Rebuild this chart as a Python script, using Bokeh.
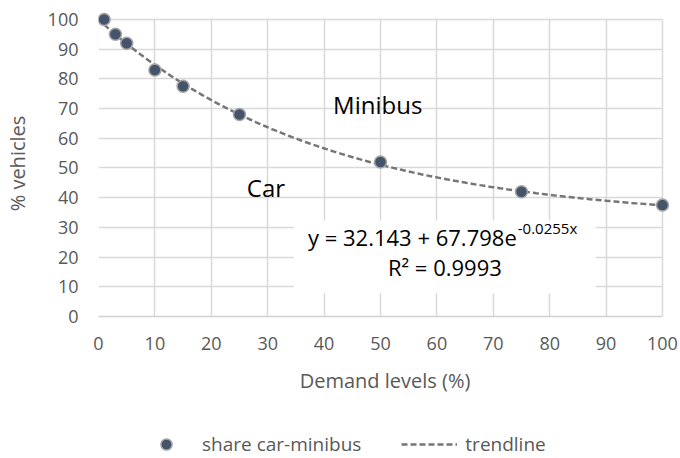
import numpy as np
from bokeh.plotting import figure
from bokeh.layouts import column
from bokeh.models import Range1d, Legend, LegendItem, Label, BoxAnnotation, FixedTicker
from bokeh.embed import file_html
from bokeh.resources import INLINE

# ---- data ----
demand = [1, 3, 5, 10, 15, 25, 50, 75, 100]
share = [100, 95, 92, 83, 77.5, 68, 52, 42, 37.5]
x_ticks = [0, 10, 20, 30, 40, 50, 60, 70, 80, 90, 100]
y_ticks = [0, 10, 20, 30, 40, 50, 60, 70, 80, 90, 100]
# trendline shown on the chart: y = a + b * exp(c * x)
trend_a = 32.143
trend_b = 67.798
trend_c = -0.0255
trend_x = np.linspace(1, 100, 200)
trend_y = trend_a + trend_b * np.exp(trend_c * trend_x)

FONT = "Open Sans"
GREY_TXT = "#595959"
GRID = "#D9D9D9"
MARK = dict(size=12, fill_color="#44546A", line_color="#A5A5A5", line_width=1.5)
TREND = dict(line_color="#767676", line_width=2.5, line_dash="6 3")

p = figure(width=680, height=418, x_range=Range1d(0, 101.6), y_range=Range1d(0, 103),
           output_backend="svg", toolbar_location=None,
           min_border_left=97, min_border_right=9, min_border_top=10, min_border_bottom=102)
p.outline_line_color = None
p.background_fill_color = "white"
p.border_fill_color = "white"

# axes
for ax, ticks in ((p.xaxis, x_ticks), (p.yaxis, y_ticks)):
    ax.ticker = FixedTicker(ticks=ticks)
    ax.major_tick_line_color = None
    ax.minor_tick_line_color = None
    ax.major_tick_out = 0
    ax.major_tick_in = 0
    ax.major_label_text_font = FONT
    ax.major_label_text_font_size = "18px"
    ax.major_label_text_color = GREY_TXT
    ax.axis_label_text_font = FONT
    ax.axis_label_text_font_size = "20px"
    ax.axis_label_text_font_style = "normal"
    ax.axis_label_text_color = GREY_TXT

p.xaxis.axis_label = "Demand levels (%)"
p.xaxis.bounds = (0, 100)
p.xaxis.axis_line_color = "#D0D0D0"
p.xaxis.axis_line_width = 1.5
p.xaxis.major_label_standoff = 20
p.xaxis.axis_label_standoff = 14

p.yaxis.axis_label = "% vehicles"
p.yaxis.axis_line_color = None
p.yaxis.major_label_standoff = 20
p.yaxis.axis_label_standoff = 14

p.xgrid.ticker = FixedTicker(ticks=x_ticks)
p.ygrid.ticker = FixedTicker(ticks=y_ticks)
for g in (p.xgrid, p.ygrid):
    g.grid_line_color = GRID
    g.grid_line_width = 1.5
    g.cross_bounds = (0, 100)
p.xgrid.bounds = (0, 100)
p.ygrid.bounds = (0, 100)

# glyphs
p.line(trend_x, trend_y, **TREND)
p.scatter(demand, share, **MARK)

# equation box
def dx(px):
    return (px - 97) / 5.65

def dy(py):
    return (316 - py) / 2.971

p.add_layout(BoxAnnotation(left=dx(293), right=dx(595), top=dy(220), bottom=dy(293),
                           fill_color="white", fill_alpha=1.0, line_color=None))

def lab(text, x, y, size, align="center", color="black"):
    p.add_layout(Label(x=x, y=y, text=text, text_font=FONT, text_font_size=size,
                       text_align=align, text_baseline="alphabetic", text_color=color))

SHIFT = 9
lab("Minibus", dx(376.7), dy(112.7 - SHIFT), "24px")
lab("Car", dx(264.7), dy(196 - SHIFT), "24px")
lab("y = 32.143 + 67.798e", dx(516), dy(245 - SHIFT), "22px", align="right")
lab("-0.0255x", dx(517), dy(236 - SHIFT), "15px", align="left")
lab("R\u00b2 = 0.9993", dx(444), dy(275 - SHIFT), "22px")

# ---- legend strip (separate small figure under the chart) ----
q = figure(width=680, height=40, x_range=Range1d(-20, -10), y_range=Range1d(-20, -10),
           output_backend="svg", toolbar_location=None,
           x_axis_location=None, y_axis_location=None,
           min_border_left=0, min_border_right=0, min_border_top=0, min_border_bottom=0)
q.outline_line_color = None
q.grid.visible = False
q.background_fill_color = "white"
q.border_fill_color = "white"
sc2 = q.scatter(demand, share, **MARK)
tl2 = q.line(trend_x, trend_y, **TREND)

leg = Legend(items=[LegendItem(label="share car-minibus", renderers=[sc2]),
                    LegendItem(label="trendline", renderers=[tl2])],
             location=(40, 0), orientation="horizontal",
             glyph_width=56, glyph_height=28, label_standoff=8, spacing=40,
             padding=0, margin=0, border_line_color=None, background_fill_alpha=0,
             label_text_font=FONT, label_text_font_size="19px", label_text_color=GREY_TXT)
q.add_layout(leg)

open("out.html", "w").write(file_html(column(p, q), INLINE))
